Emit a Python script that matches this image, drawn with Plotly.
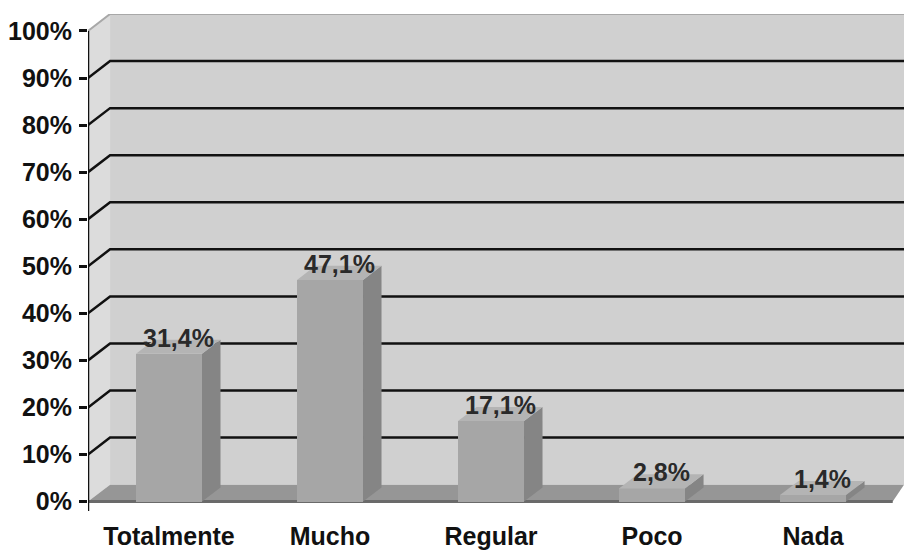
import plotly.graph_objects as go

# Survey answers and their shares
categories = ["Totalmente", "Mucho", "Regular", "Poco", "Nada"]
values = [0.314, 0.471, 0.171, 0.028, 0.014]
value_labels = ["31,4%", "47,1%", "17,1%", "2,8%", "1,4%"]
y_ticks = [i / 10 for i in range(11)]
y_tick_labels = [f"{i * 10}%" for i in range(11)]

# Pseudo-3D geometry (axis units)
X_MIN, X_MAX = -0.503, 4.565
Y_MIN, Y_MAX = -0.02, 1.036
WALL_DX, WALL_DY = 0.137, 0.036
BAR_W = 0.41
BAR_DX, BAR_DY = 0.115, 0.03

FONT = "Liberation Sans, Arial, sans-serif"

fig = go.Figure()


def poly(pts):
    return "M " + " L ".join(f"{x},{y}" for x, y in pts) + " Z"


shapes = []
# back wall
shapes.append(dict(type="path", xref="x", yref="y", layer="below",
                   path=poly([(X_MIN + WALL_DX, WALL_DY), (X_MAX, WALL_DY),
                              (X_MAX, 1 + WALL_DY), (X_MIN + WALL_DX, 1 + WALL_DY)]),
                   fillcolor="#d0d0d0", line=dict(width=0)))
# left side wall
shapes.append(dict(type="path", xref="x", yref="y", layer="below",
                   path=poly([(X_MIN, 0), (X_MIN + WALL_DX, WALL_DY),
                              (X_MIN + WALL_DX, 1 + WALL_DY), (X_MIN, 1)]),
                   fillcolor="#dcdcdc", line=dict(width=0)))
# floor
shapes.append(dict(type="path", xref="x", yref="y", layer="below",
                   path=poly([(X_MIN, 0), (X_MAX - 0.07, 0), (X_MAX, WALL_DY),
                              (X_MIN + WALL_DX, WALL_DY)]),
                   fillcolor="#969696", line=dict(width=0)))
shapes.append(dict(type="line", xref="x", yref="y", layer="below",
                   x0=X_MIN, x1=X_MAX - 0.07, y0=0, y1=0,
                   line=dict(color="#6a6a6a", width=3)))
# top edge of wall
shapes.append(dict(type="path", xref="x", yref="y", layer="below",
                   path=f"M {X_MIN},1 L {X_MIN + WALL_DX},{1 + WALL_DY} L {X_MAX},{1 + WALL_DY}",
                   line=dict(color="#a8a8a8", width=2)))
# gridlines on the walls
for v in y_ticks[1:-1]:
    shapes.append(dict(type="path", xref="x", yref="y", layer="below",
                       path=f"M {X_MIN},{v} L {X_MIN + WALL_DX},{v + WALL_DY} L {X_MAX},{v + WALL_DY}",
                       line=dict(color="#111111", width=2.5)))
# front value axis
shapes.append(dict(type="line", xref="x", yref="y", layer="above",
                   x0=X_MIN, x1=X_MIN, y0=Y_MIN, y1=1,
                   line=dict(color="#111111", width=2.5)))

# bar side and top faces
for i, v in enumerate(values):
    xl, xr = i - BAR_W / 2, i + BAR_W / 2
    side = [(xr, 0), (xr + BAR_DX, BAR_DY), (xr + BAR_DX, v + BAR_DY), (xr, v)]
    top = [(xl, v), (xr, v), (xr + BAR_DX, v + BAR_DY), (xl + BAR_DX, v + BAR_DY)]
    for pts, col in ((side, "#858585"), (top, "#b4b4b4")):
        fig.add_trace(go.Scatter(
            x=[p[0] for p in pts] + [pts[0][0]], y=[p[1] for p in pts] + [pts[0][1]],
            mode="lines", fill="toself", fillcolor=col, line=dict(width=0),
            hoverinfo="skip", showlegend=False))

# bar front faces
fig.add_trace(go.Bar(x=list(range(len(categories))), y=values, width=BAR_W,
                     marker=dict(color="#a6a6a6", line=dict(width=0)),
                     showlegend=False, hoverinfo="skip"))

# value labels
for i, (v, t) in enumerate(zip(values, value_labels)):
    fig.add_annotation(x=i + BAR_DX / 2, y=v, text=t, showarrow=False,
                       xref="x", yref="y", yanchor="bottom", yshift=0,
                       font=dict(family=FONT, size=25, color="#2a2a2a", weight="bold"))

fig.update_layout(
    width=904, height=555,
    margin=dict(l=88, r=0, t=14, b=44),
    paper_bgcolor="white", plot_bgcolor="white",
    shapes=shapes,
    bargap=0,
    xaxis=dict(range=[X_MIN, X_MAX], showgrid=False, zeroline=False, showline=False,
               automargin=False,
               tickvals=list(range(len(categories))), ticktext=categories, ticks="",
               ticklabelstandoff=8,
               tickfont=dict(family=FONT, size=25, color="#111111", weight="bold")),
    yaxis=dict(range=[Y_MIN, Y_MAX], showgrid=False, zeroline=False, showline=False,
               automargin=False,
               tickvals=y_ticks, ticktext=y_tick_labels, ticks="outside", ticklen=8,
               tickwidth=2.5, tickcolor="#111111", ticklabelstandoff=2,
               tickfont=dict(family=FONT, size=25, color="#111111", weight="bold")),
)

fig.write_html("out.html")
